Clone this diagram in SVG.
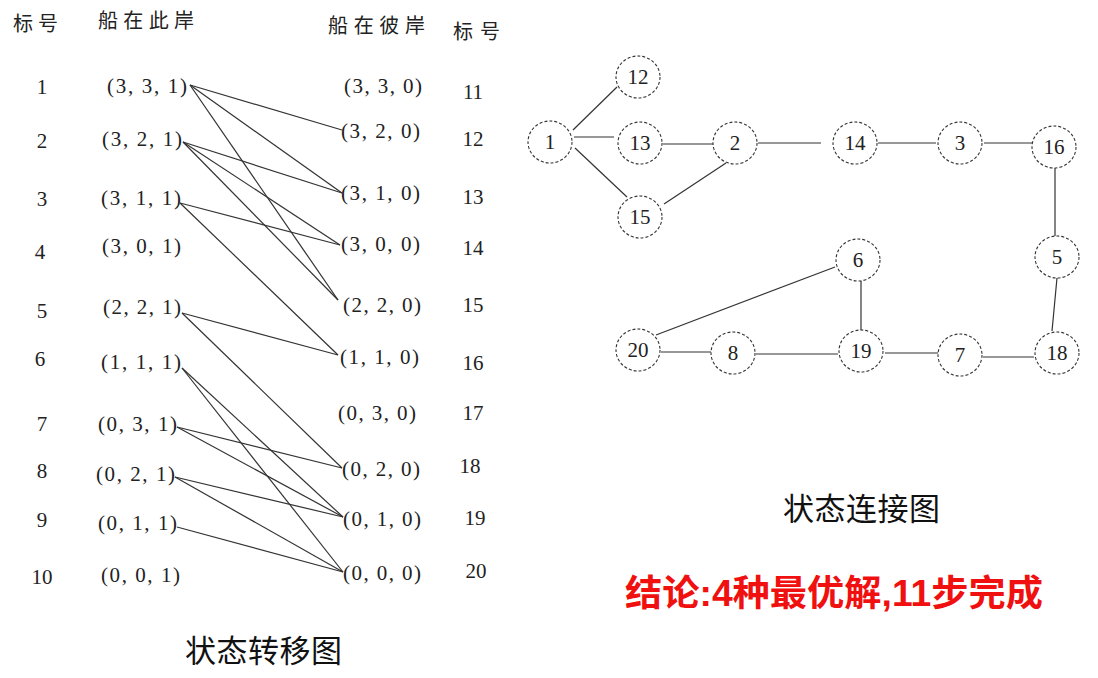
<svg xmlns="http://www.w3.org/2000/svg" width="1098" height="678" viewBox="0 0 1098 678">
<style>
.t{font-family:"Liberation Serif","Noto Sans CJK SC",serif;font-size:21px;fill:#222}
.h{font-family:"Noto Sans CJK SC",sans-serif;font-size:20px;fill:#222}
.c{font-family:"Noto Sans CJK SC",sans-serif;font-size:31px;fill:#111}
.n{font-family:"Liberation Serif",serif;font-size:21px;fill:#222;text-anchor:middle}
.e line{stroke:#333;stroke-width:1.2}
.nd ellipse{fill:#fff;stroke:#333;stroke-width:1.1;stroke-dasharray:3 2}
.r{font-family:"Liberation Sans","Noto Sans CJK SC",sans-serif;font-size:36px;font-weight:bold;fill:#f01010}
</style>
<rect width="1098" height="678" fill="#fff"/>

<g id="headers">
<text class="h" x="13" y="31" textLength="45" lengthAdjust="spacing">标号</text>
<text class="h" x="98" y="28" textLength="96" lengthAdjust="spacing">船在此岸</text>
<text class="h" x="328" y="33" textLength="97" lengthAdjust="spacing">船在彼岸</text>
<text class="h" x="453" y="39" textLength="47" lengthAdjust="spacing">标号</text>
</g>

<g id="left-labels" class="t" text-anchor="middle">
<text x="42" y="94">1</text>
<text x="42" y="148">2</text>
<text x="42" y="206">3</text>
<text x="40" y="259">4</text>
<text x="42" y="318">5</text>
<text x="40" y="366">6</text>
<text x="42" y="431">7</text>
<text x="42" y="478">8</text>
<text x="42" y="527">9</text>
<text x="42" y="584">10</text>
</g>

<g id="left-states" class="t">
<text x="107" y="93" textLength="80" lengthAdjust="spacing">(3, 3, 1)</text>
<text x="102" y="146" textLength="80" lengthAdjust="spacing">(3, 2, 1)</text>
<text x="101" y="205" textLength="80" lengthAdjust="spacing">(3, 1, 1)</text>
<text x="102" y="253" textLength="79" lengthAdjust="spacing">(3, 0, 1)</text>
<text x="103" y="314" textLength="78" lengthAdjust="spacing">(2, 2, 1)</text>
<text x="101" y="369" textLength="80" lengthAdjust="spacing">(1, 1, 1)</text>
<text x="98" y="431" textLength="79" lengthAdjust="spacing">(0, 3, 1)</text>
<text x="96" y="481" textLength="79" lengthAdjust="spacing">(0, 2, 1)</text>
<text x="98" y="530" textLength="79" lengthAdjust="spacing">(0, 1, 1)</text>
<text x="101" y="582" textLength="79" lengthAdjust="spacing">(0, 0, 1)</text>
</g>

<g id="right-states" class="t">
<text x="344" y="93" textLength="78" lengthAdjust="spacing">(3, 3, 0)</text>
<text x="341" y="138" textLength="79" lengthAdjust="spacing">(3, 2, 0)</text>
<text x="341" y="200" textLength="79" lengthAdjust="spacing">(3, 1, 0)</text>
<text x="341" y="251" textLength="79" lengthAdjust="spacing">(3, 0, 0)</text>
<text x="343" y="312" textLength="78" lengthAdjust="spacing">(2, 2, 0)</text>
<text x="340" y="364" textLength="79" lengthAdjust="spacing">(1, 1, 0)</text>
<text x="338" y="420" textLength="78" lengthAdjust="spacing">(0, 3, 0)</text>
<text x="342" y="476" textLength="78" lengthAdjust="spacing">(0, 2, 0)</text>
<text x="343" y="526" textLength="78" lengthAdjust="spacing">(0, 1, 0)</text>
<text x="343" y="580" textLength="78" lengthAdjust="spacing">(0, 0, 0)</text>
</g>

<g id="right-labels" class="t" text-anchor="middle">
<text x="473" y="99">11</text>
<text x="473" y="146">12</text>
<text x="473" y="204">13</text>
<text x="473" y="255">14</text>
<text x="473" y="312">15</text>
<text x="473" y="370">16</text>
<text x="473" y="420">17</text>
<text x="470" y="473">18</text>
<text x="475" y="525">19</text>
<text x="476" y="578">20</text>
</g>

<g id="transitions" class="e">
<line x1="190" y1="85" x2="342" y2="130"/>
<line x1="190" y1="85" x2="342" y2="193"/>
<line x1="190" y1="85" x2="338" y2="300"/>
<line x1="183" y1="142" x2="342" y2="193"/>
<line x1="183" y1="142" x2="340" y2="245"/>
<line x1="183" y1="142" x2="338" y2="300"/>
<line x1="180" y1="203" x2="340" y2="245"/>
<line x1="180" y1="203" x2="338" y2="355"/>
<line x1="182" y1="313" x2="338" y2="355"/>
<line x1="182" y1="313" x2="342" y2="468"/>
<line x1="182" y1="368" x2="343" y2="517"/>
<line x1="182" y1="368" x2="343" y2="572"/>
<line x1="177" y1="427" x2="342" y2="468"/>
<line x1="177" y1="427" x2="343" y2="517"/>
<line x1="175" y1="477" x2="343" y2="517"/>
<line x1="175" y1="477" x2="343" y2="572"/>
<line x1="177" y1="527" x2="343" y2="572"/>
</g>

<g id="graph-edges" class="e">
<line x1="573" y1="130" x2="617" y2="87"/>
<line x1="574" y1="137" x2="614" y2="137"/>
<line x1="575" y1="148" x2="627" y2="197"/>
<line x1="663" y1="144" x2="713" y2="144"/>
<line x1="664" y1="204" x2="726" y2="163"/>
<line x1="758" y1="143" x2="821" y2="143"/>
<line x1="878" y1="143" x2="936" y2="143"/>
<line x1="984" y1="143" x2="1032" y2="143"/>
<line x1="1055" y1="168" x2="1055" y2="236"/>
<line x1="1057" y1="278" x2="1052" y2="331"/>
<line x1="861" y1="281" x2="861" y2="330"/>
<line x1="835" y1="267" x2="656" y2="335"/>
<line x1="661" y1="352" x2="711" y2="352"/>
<line x1="756" y1="354" x2="838" y2="354"/>
<line x1="885" y1="353" x2="938" y2="353"/>
<line x1="983" y1="357" x2="1034" y2="357"/>
</g>

<g class="nd">
<g id="n12"><ellipse cx="638" cy="77" rx="22" ry="21"/><text class="n" x="638" y="84">12</text></g>
<g id="n1"><ellipse cx="550" cy="142" rx="22" ry="21"/><text class="n" x="550" y="149">1</text></g>
<g id="n13"><ellipse cx="640" cy="143" rx="22" ry="21"/><text class="n" x="640" y="150">13</text></g>
<g id="n2"><ellipse cx="735" cy="143" rx="22" ry="21"/><text class="n" x="735" y="150">2</text></g>
<g id="n15"><ellipse cx="640" cy="217" rx="22" ry="21"/><text class="n" x="640" y="224">15</text></g>
<g id="n14"><ellipse cx="855" cy="143" rx="22" ry="21"/><text class="n" x="855" y="150">14</text></g>
<g id="n3"><ellipse cx="960" cy="143" rx="22" ry="21"/><text class="n" x="960" y="150">3</text></g>
<g id="n16"><ellipse cx="1054" cy="147" rx="22" ry="21"/><text class="n" x="1054" y="154">16</text></g>
<g id="n5"><ellipse cx="1057" cy="257" rx="22" ry="21"/><text class="n" x="1057" y="264">5</text></g>
<g id="n6"><ellipse cx="858" cy="260" rx="22" ry="21"/><text class="n" x="858" y="267">6</text></g>
<g id="n19"><ellipse cx="861" cy="351" rx="22" ry="21"/><text class="n" x="861" y="358">19</text></g>
<g id="n7"><ellipse cx="960" cy="355" rx="22" ry="21"/><text class="n" x="960" y="362">7</text></g>
<g id="n18"><ellipse cx="1057" cy="353" rx="22" ry="21"/><text class="n" x="1057" y="360">18</text></g>
<g id="n20"><ellipse cx="638" cy="350" rx="22" ry="21"/><text class="n" x="638" y="357">20</text></g>
<g id="n8"><ellipse cx="733" cy="353" rx="22" ry="21"/><text class="n" x="733" y="360">8</text></g>
</g>

<g id="captions">
<text class="c" x="783" y="520" textLength="157" lengthAdjust="spacing">状态连接图</text>
<text class="c" x="185" y="662" textLength="157" lengthAdjust="spacing">状态转移图</text>
<text class="r" x="625" y="606" textLength="418" lengthAdjust="spacingAndGlyphs">结论:4种最优解,11步完成</text>
</g>
</svg>
